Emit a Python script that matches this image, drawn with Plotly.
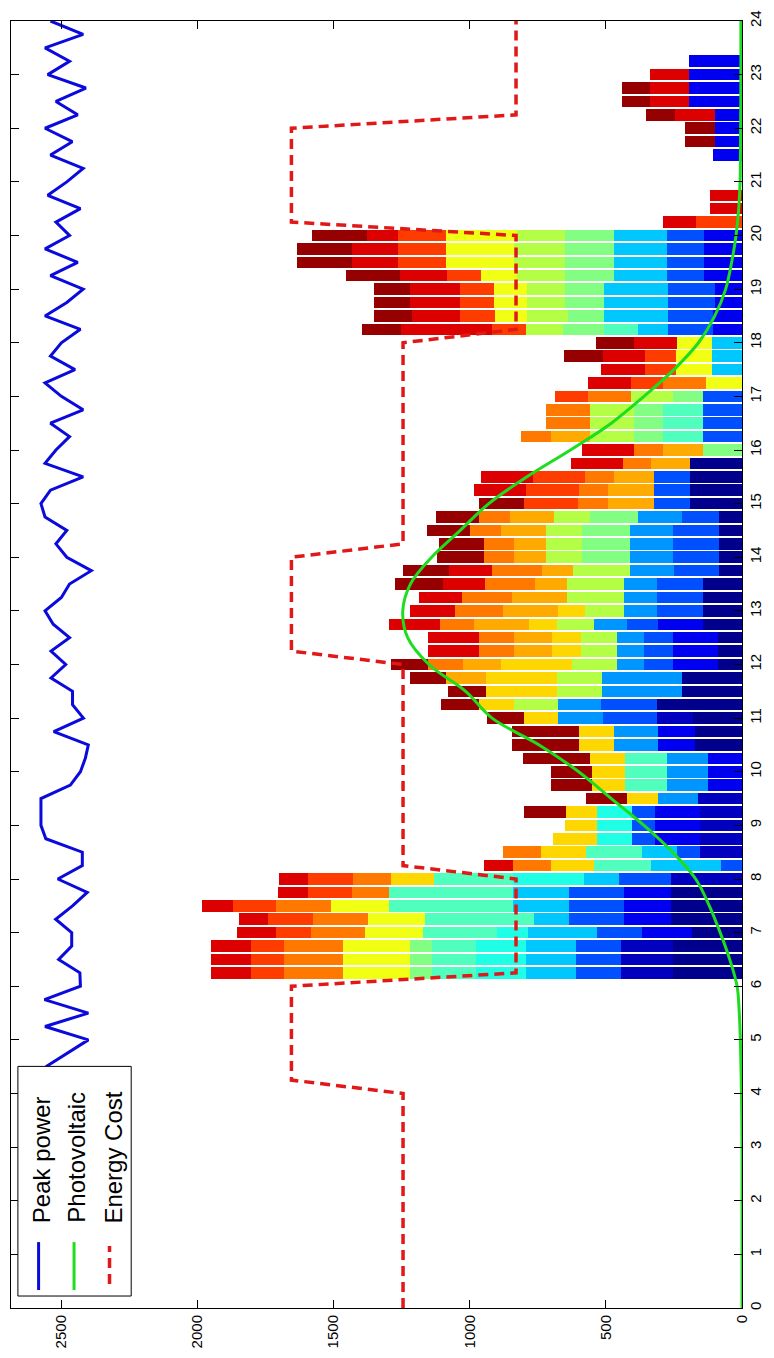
import plotly.graph_objects as go

# ---------------- data ----------------
slot_hours = [6.25 + 0.25 * i for i in range(69)]   # bar positions 6.25 .. 23.25 h

# stacked segments, one series per colour level (hour -> power)
c00 = {6.25: 252, 6.5: 252, 6.75: 252, 7.0: 183, 7.25: 260, 7.5: 260, 7.75: 260,
       10.5: 174, 10.75: 174, 11.0: 180, 11.25: 313, 11.5: 222, 11.75: 222,
       12.0: 89, 12.25: 89, 12.5: 89, 12.75: 144, 13.0: 144, 13.25: 144, 13.5: 144,
       13.75: 86, 14.0: 86, 14.25: 86, 14.5: 86, 14.75: 86,
       15.0: 190, 15.25: 190, 15.5: 190, 15.75: 190}
c01 = {6.25: 194, 6.5: 194, 6.75: 194, 8.0: 260, 8.5: 153, 8.75: 156, 9.0: 156,
       9.25: 156, 9.5: 162, 11.0: 133}
c02 = {7.0: 183, 7.25: 175, 7.5: 175, 7.75: 175, 8.75: 163, 9.0: 163, 9.25: 163,
       9.75: 126, 10.0: 126, 10.25: 126, 10.5: 133, 10.75: 133,
       12.0: 163, 12.25: 163, 12.5: 163, 12.75: 163,
       18.25: 107, 18.5: 107, 18.75: 101, 19.0: 101, 19.25: 138, 19.5: 138, 19.75: 138,
       20.0: 141, 21.5: 105, 21.75: 101, 22.0: 101, 22.25: 101, 22.5: 194, 22.75: 194,
       23.0: 194, 23.25: 194}
c03 = {6.25: 165, 6.5: 165, 6.75: 165, 7.0: 168, 7.25: 199, 7.5: 199, 7.75: 199,
       8.0: 190, 8.25: 76, 8.5: 84, 8.75: 84, 9.0: 84, 9.25: 84, 11.0: 199, 11.25: 205,
       12.0: 109, 12.25: 109, 12.5: 109, 12.75: 114, 13.0: 169, 13.25: 169, 13.5: 169,
       13.75: 164, 14.0: 166, 14.25: 166, 14.5: 166, 14.75: 136,
       15.0: 135, 15.25: 135, 15.5: 135, 16.25: 144, 16.5: 144, 16.75: 144, 17.0: 144,
       18.25: 166, 18.5: 166, 18.75: 170, 19.0: 170, 19.25: 139, 19.5: 139, 19.75: 139,
       20.0: 136}
c04 = {9.5: 145, 9.75: 151, 10.0: 151, 10.25: 151, 10.5: 163, 10.75: 163, 11.0: 163,
       11.25: 157, 11.5: 294, 11.75: 294, 12.0: 97, 12.25: 97, 12.5: 97,
       12.75: 121, 13.0: 121, 13.25: 121, 13.5: 121, 13.75: 162,
       14.0: 160, 14.25: 160, 14.5: 160, 14.75: 160}
c05 = {6.25: 183, 6.5: 183, 6.75: 183, 7.0: 252, 7.25: 129, 7.5: 206, 7.75: 206,
       8.0: 130, 8.25: 260, 8.5: 129, 17.5: 110, 17.75: 110, 18.0: 110, 18.25: 109,
       18.5: 235, 18.75: 235, 19.0: 235, 19.25: 193, 19.5: 195, 19.75: 195, 20.0: 195}
c06 = {6.25: 183, 6.5: 183, 6.75: 183, 7.0: 115, 8.0: 260, 8.75: 130, 9.0: 130, 9.25: 130}
c07 = {6.25: 160, 6.5: 160, 6.75: 160, 7.0: 272, 7.25: 400, 7.5: 455, 7.75: 455,
       8.0: 293, 8.25: 206, 8.5: 207, 9.75: 154, 10.0: 154, 10.25: 154,
       16.25: 145, 16.5: 145, 16.75: 145, 18.25: 124}
c08 = {6.25: 84, 6.5: 84, 6.75: 84, 14.0: 176, 14.25: 176, 14.5: 176, 14.75: 178,
       16.0: 144, 16.25: 108, 16.5: 108, 16.75: 108, 17.0: 108, 18.25: 151, 18.5: 131,
       18.75: 145, 19.0: 145, 19.25: 181, 19.5: 179, 19.75: 179, 20.0: 179}
c09 = {11.25: 163, 11.5: 165, 11.75: 165, 12.0: 166, 12.25: 133, 12.5: 133,
       12.75: 139, 13.0: 142, 13.25: 207, 13.5: 207, 13.75: 209, 14.0: 133, 14.25: 133,
       14.5: 133, 14.75: 130, 16.25: 163, 16.5: 163, 16.75: 163, 17.0: 157,
       18.25: 135, 18.5: 151, 18.75: 139, 19.0: 139, 19.25: 175, 19.5: 187, 19.75: 187,
       20.0: 175}
c10 = {6.25: 245, 6.5: 245, 6.75: 245, 7.0: 213, 7.25: 211, 7.5: 213,
       17.25: 132, 17.5: 133, 17.75: 133, 18.0: 130, 18.5: 117, 18.75: 121, 19.0: 121,
       19.25: 131, 19.5: 251, 19.75: 251, 20.0: 263}
c11 = {8.0: 157, 8.25: 160, 8.5: 165, 8.75: 160, 9.0: 118, 9.25: 112, 9.5: 117,
       9.75: 121, 10.0: 121, 10.25: 129, 10.5: 127, 10.75: 127, 11.0: 127, 11.25: 127,
       11.5: 260, 11.75: 260, 12.0: 262, 12.25: 106, 12.5: 106, 12.75: 103, 13.0: 99}
c12 = {11.75: 145, 12.0: 139, 12.25: 141, 12.5: 141, 12.75: 199, 13.0: 202, 13.25: 203,
       13.5: 119, 13.75: 115, 14.0: 117, 14.25: 117, 14.5: 165, 14.75: 164,
       15.0: 169, 15.25: 169, 15.5: 147, 15.75: 145, 16.0: 147, 16.25: 142}
c13 = {6.25: 216, 6.5: 216, 6.75: 216, 7.0: 197, 7.25: 202, 7.5: 202, 7.75: 137,
       8.0: 137, 8.25: 138, 8.5: 140, 12.0: 127, 12.25: 127, 12.5: 127, 12.75: 127,
       13.0: 179, 13.25: 184, 13.5: 183, 13.75: 183, 14.0: 109, 14.25: 109, 14.5: 113,
       14.75: 111, 15.0: 109, 15.25: 103, 15.5: 104, 15.75: 102, 16.0: 104, 16.25: 108,
       16.5: 161, 16.75: 161, 17.0: 155, 17.25: 157}
c14 = {6.25: 123, 6.5: 123, 6.75: 123, 7.0: 127, 7.25: 164, 7.5: 160, 7.75: 163,
       8.0: 168, 15.0: 199, 15.25: 196, 15.5: 193, 17.0: 123, 17.25: 117, 17.5: 114,
       17.75: 114, 18.25: 128, 18.5: 128, 18.75: 126, 19.0: 126, 19.25: 126,
       19.5: 174, 19.75: 174, 20.0: 174, 20.25: 170}
c15 = {6.25: 146, 6.5: 146, 6.75: 146, 7.0: 145, 7.25: 107, 7.5: 115, 7.75: 110,
       8.0: 106, 8.25: 107, 12.25: 187, 12.5: 187, 12.75: 187, 13.0: 165, 13.25: 160,
       13.5: 155, 13.75: 157, 15.25: 190, 15.5: 190, 15.75: 192, 16.0: 192,
       17.25: 158, 17.5: 161, 17.75: 155, 18.0: 155, 18.25: 334, 18.5: 178, 18.75: 182,
       19.0: 182, 19.25: 174, 19.5: 171, 19.75: 171, 20.0: 113, 20.25: 121, 20.5: 117,
       20.75: 117, 22.25: 145, 22.5: 143, 22.75: 143, 23.0: 143}
c16 = {9.25: 157, 9.5: 148, 9.75: 150, 10.0: 150, 10.25: 246, 10.5: 247, 10.75: 247,
       11.0: 133, 11.25: 139, 11.5: 139, 11.75: 135, 12.0: 139, 13.5: 175, 13.75: 169,
       14.0: 173, 14.25: 165, 14.5: 159, 14.75: 159, 15.0: 163, 17.75: 141, 18.0: 141,
       18.25: 140, 18.5: 138, 18.75: 132, 19.0: 132, 19.25: 197, 19.5: 201, 19.75: 201,
       20.0: 202, 21.75: 109, 22.0: 109, 22.25: 105, 22.5: 103, 22.75: 103}

series = [c00, c01, c02, c03, c04, c05, c06, c07, c08, c09, c10, c11, c12, c13, c14, c15, c16]
series_colors = ['#00008C', '#0000BE', '#0000F0', '#0050FF', '#0096FF', '#00C8FF',
                 '#1EFFE6', '#50FFBE', '#82FF82', '#B4FF46', '#F0FF14', '#FFD700',
                 '#FFAA00', '#FF7800', '#FF3C00', '#DC0000', '#960000']

peak_hours = [4.5, 4.75, 5.0, 5.25, 5.5, 5.75, 6.0, 6.25, 6.5, 6.75, 7.0, 7.25, 7.5, 7.75,
              8.0, 8.25, 8.5, 8.75, 9.0, 9.25, 9.5, 9.75, 10.0, 10.25, 10.5, 10.75, 11.0,
              11.25, 11.5, 11.75, 12.0, 12.25, 12.5, 12.75, 13.0, 13.25, 13.5, 13.75, 14.0,
              14.25, 14.5, 14.75, 15.0, 15.25, 15.5, 15.75, 16.0, 16.25, 16.5, 16.75, 17.0,
              17.25, 17.5, 17.75, 18.0, 18.25, 18.5, 18.75, 19.0, 19.25, 19.5, 19.75, 20.0,
              20.25, 20.5, 20.75, 21.0, 21.25, 21.5, 21.75, 22.0, 22.25, 22.5, 22.75, 23.0,
              23.25, 23.5, 23.75, 24.0]
peak_power = [2557, 2480, 2401, 2560, 2401, 2562, 2430, 2432, 2510, 2462, 2462, 2521, 2459,
              2405, 2513, 2423, 2423, 2557, 2575, 2575, 2575, 2467, 2430, 2412, 2401, 2528,
              2419, 2459, 2459, 2538, 2484, 2538, 2470, 2530, 2560, 2500, 2470, 2390, 2480,
              2520, 2480, 2560, 2575, 2540, 2420, 2560, 2520, 2470, 2540, 2420, 2500, 2560,
              2450, 2540, 2500, 2430, 2560, 2480, 2420, 2540, 2440, 2560, 2470, 2520, 2430,
              2550, 2480, 2420, 2540, 2460, 2560, 2440, 2520, 2410, 2550, 2470, 2560, 2420,
              2540]

pv_hours = [0, 1, 2, 3, 4, 5, 5.5, 6, 6.5, 7, 7.5, 8, 8.5, 9, 9.5, 10, 10.5, 11, 11.5, 12,
            12.5, 13, 13.5, 14, 14.5, 15, 15.5, 16, 16.5, 17, 17.5, 18, 18.5, 19, 19.5, 20,
            20.5, 21, 22, 23, 24]
pv_power = [0, 0, 0, 0, 2, 6, 10, 18, 45, 80, 120, 170, 255, 360, 480, 600, 745, 918, 1015,
            1150, 1228, 1246, 1218, 1140, 1035, 930, 790, 630, 480, 360, 250, 160, 100, 60,
            38, 22, 12, 7, 5, 4, 4]

cost_hours = [0, 4, 4.25, 6, 6.25, 8, 8.25, 12, 12.25, 14, 14.25, 18, 18.25, 20, 20.25,
              22, 22.25, 24]
cost_level = [1245, 1245, 1655, 1655, 830, 830, 1245, 1245, 1655, 1655, 1245, 1245, 830,
              830, 1655, 1655, 830, 830]

legend_labels = ['Peak power', 'Photovoltaic', 'Energy Cost']
power_ticks = [0, 500, 1000, 1500, 2000, 2500]
hour_ticks = list(range(0, 25))

# ---------------- figure ----------------
FONT = 'Arial, Liberation Sans, Helvetica, sans-serif'
fig = go.Figure()

for vals, col in zip(series, series_colors):
    fig.add_trace(go.Bar(
        y=slot_hours, x=[vals.get(h, 0) for h in slot_hours], orientation='h',
        width=0.215, marker=dict(color=col, line=dict(width=0)),
        showlegend=False, hoverinfo='skip'))

fig.add_trace(go.Scatter(x=peak_power, y=peak_hours, mode='lines',
                         line=dict(color='#0A0ADC', width=3), showlegend=False))
fig.add_trace(go.Scatter(x=pv_power, y=pv_hours, mode='lines', line_shape='spline',
                         line=dict(color='#1EDC1E', width=3), showlegend=False))
fig.add_trace(go.Scatter(x=cost_level, y=cost_hours, mode='lines',
                         line=dict(color='#E01818', width=3.5, dash='10px,6px'),
                         showlegend=False))

# plot area in pixels: x 10..752, y 19..1308
def px(xp):
    return (xp - 10) / 742.0

def py(yp):
    return (1308 - yp) / 1289.0

shapes = [dict(type='rect', xref='paper', yref='paper', x0=px(17), x1=px(132),
               y0=py(1296), y1=py(1066), line=dict(color='black', width=1),
               fillcolor='white', layer='above')]
leg_x = [38, 74, 110]
leg_cols = ['#0A0ADC', '#1EDC1E', '#E01818']
for i, (lx, lc) in enumerate(zip(leg_x, leg_cols)):
    if i < 2:
        shapes.append(dict(type='line', xref='paper', yref='paper', x0=px(lx), x1=px(lx),
                           y0=py(1290), y1=py(1242), line=dict(color=lc, width=3),
                           layer='above'))
    else:
        shapes.append(dict(type='line', xref='paper', yref='paper', x0=px(lx), x1=px(lx),
                           y0=py(1284), y1=py(1246),
                           line=dict(color=lc, width=3.5, dash='10px,6px'), layer='above'))

annotations = []
text_x = [41, 77, 114]
for lab, tx in zip(legend_labels, text_x):
    annotations.append(dict(text=lab, xref='paper', yref='paper', x=px(tx), y=py(1225),
                            xanchor='center', yanchor='bottom', textangle=-90,
                            showarrow=False, font=dict(family=FONT, size=24, color='black')))

axis_common = dict(showline=True, linecolor='black', linewidth=1, mirror='ticks',
                   ticks='inside', ticklen=8, tickcolor='black', tickwidth=1,
                   showgrid=False, zeroline=False, tickangle=-90,
                   tickfont=dict(family=FONT, size=15, color='black'))

fig.update_layout(
    width=774, height=1358,
    margin=dict(l=10, r=22, t=19, b=50, pad=0),
    paper_bgcolor='white', plot_bgcolor='white',
    barmode='stack', bargap=0,
    xaxis=dict(range=[2685, 0], tickvals=power_ticks,
               ticktext=[str(v) for v in power_ticks], **axis_common),
    yaxis=dict(range=[0, 24], side='right', tickvals=hour_ticks,
               ticktext=[str(v) for v in hour_ticks], **axis_common),
    shapes=shapes, annotations=annotations,
)

fig.write_html('out.html')
